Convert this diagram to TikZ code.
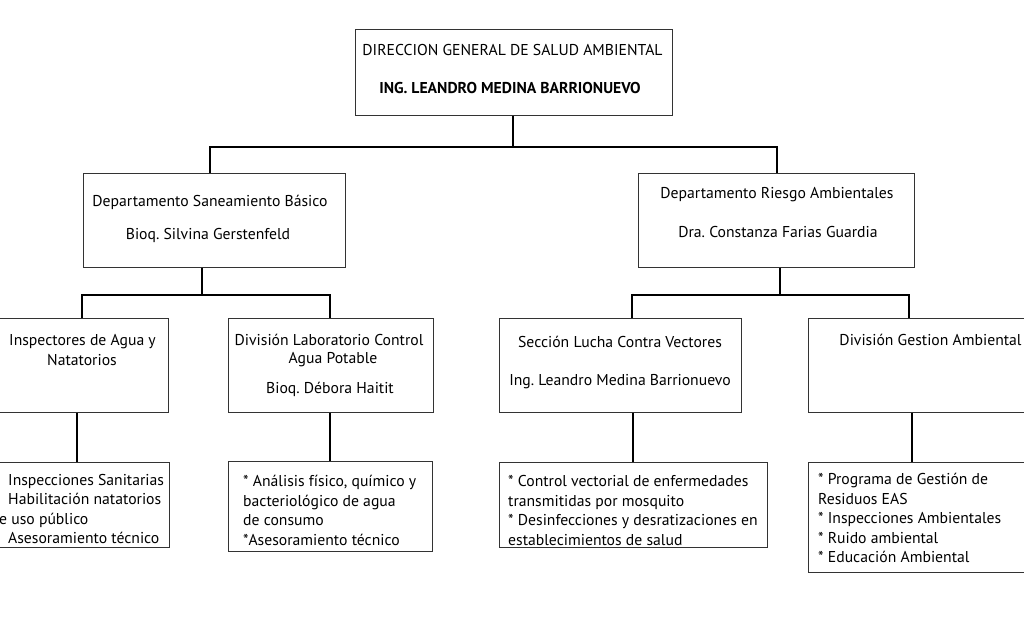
\documentclass[tikz,border=0pt]{standalone}
\usepackage{fontspec}
\setmainfont{PT Sans}
\begin{document}
\frenchspacing
\begin{tikzpicture}[x=1pt,y=-1pt,
  box/.style={draw=black!80, line width=1pt, rectangle, inner sep=0pt},
  conn/.style={line width=2.4pt, black},
  txt/.style={inner sep=0pt, font=\fontsize{15.7}{19.5}\selectfont, align=center},
  ltxt/.style={inner sep=0pt, font=\fontsize{15.7}{19.5}\selectfont, align=left, anchor=west}]
\useasboundingbox (0,0) rectangle (1024,629);
\clip (0,0) rectangle (1024,629);
\fill[white] (0,0) rectangle (1024,629);

% boxes
\node[box, minimum width=317pt, minimum height=86pt] (top) at (513.5,72) {};
\node[box, minimum width=262pt, minimum height=94pt] (dl) at (214,220) {};
\node[box, minimum width=276pt, minimum height=94pt] (dr) at (776,220) {};
\node[box, minimum width=188pt, minimum height=94pt] (a3) at (74,365) {};
\node[box, minimum width=205pt, minimum height=94pt] (b3) at (330.5,365) {};
\node[box, minimum width=242pt, minimum height=94pt] (c3) at (620,365) {};
\node[box, minimum width=232pt, minimum height=94pt] (d3) at (924,365) {};
\node[box, minimum width=189pt, minimum height=85pt] (a4) at (74.5,504.5) {};
\node[box, minimum width=204pt, minimum height=90pt] (b4) at (330,506) {};
\node[box, minimum width=268pt, minimum height=85pt] (c4) at (633,504.5) {};
\node[box, minimum width=232pt, minimum height=110pt] (d4) at (924,517) {};

% junction coordinates
\coordinate (jt) at (513,147);
\coordinate (xdl) at (210,0);
\coordinate (xdr) at (777,0);
\coordinate (jl) at (202,295);
\coordinate (jr) at (780,295);
\coordinate (xa3) at (82,0);
\coordinate (xb3) at (330,0);
\coordinate (xc3) at (632,0);
\coordinate (xd3) at (909,0);
\coordinate (xa4) at (77,0);
\coordinate (xb4) at (330,0);
\coordinate (xc4) at (633,0);
\coordinate (xd4) at (912,0);

% connectors
\draw[conn] (top.south -| jt) -- (jt);
\draw[conn] (dl.north -| xdl) |- (jt) -| (dr.north -| xdr);
\draw[conn] (dl.south -| jl) -- (jl);
\draw[conn] (a3.north -| xa3) |- (jl) -| (b3.north -| xb3);
\draw[conn] (dr.south -| jr) -- (jr);
\draw[conn] (c3.north -| xc3) |- (jr) -| (d3.north -| xd3);
\draw[conn] (a3.south -| xa4) -- (a4.north -| xa4);
\draw[conn] (b3.south -| xb4) -- (b4.north -| xb4);
\draw[conn] (c3.south -| xc4) -- (c4.north -| xc4);
\draw[conn] (d3.south -| xd4) -- (d4.north -| xd4);

% texts
\node[txt] (t1) at (512.5,50) {DIRECCION GENERAL DE SALUD AMBIENTAL};
\node[txt, font=\fontsize{15.7}{19.5}\selectfont\bfseries] (t2) at (510,88) {ING. LEANDRO MEDINA BARRIONUEVO};
\node[txt] (dl1) at (210,202) {Departamento Saneamiento Básico};
\node[txt] (dl2) at (208,235) {Bioq. Silvina Gerstenfeld};
\node[txt] (dr1) at (777,195) {Departamento Riesgo Ambientales};
\node[txt] (dr2) at (778,232) {Dra. Constanza Farias Guardia};
\node[txt] (a31) at (82.5,342) {Inspectores de Agua y};
\node[txt] (a32) at (82,360) {Natatorios};
\node[txt] (b31) at (329,340) {División Laboratorio Control};
\node[txt] (b32) at (333,360) {Agua Potable};
\node[txt] (b33) at (330,389) {Bioq. Débora Haitit};
\node[txt] (c31) at (620,342) {Sección Lucha Contra Vectores};
\node[txt] (c32) at (620,382) {Ing. Leandro Medina Barrionuevo};
\node[txt] (d31) at (930.5,340) {División Gestion Ambiental};

\node[ltxt] (a4t) at (8,509) {Inspecciones Sanitarias\\Habilitación natatorios\\\hspace*{-9pt}e uso público\\Asesoramiento técnico};
\node[ltxt] (b4t) at (243,510.5) {* Análisis físico, químico y\\bacteriológico de agua\\de consumo\\*Asesoramiento técnico};
\node[ltxt] (c4t) at (508,510.5) {* Control vectorial de enfermedades\\transmitidas por mosquito\\* Desinfecciones y desratizaciones en\\establecimientos de salud};
\node[ltxt] (d4t) at (818,518) {* Programa de Gestión de\\Residuos EAS\\* Inspecciones Ambientales\\* Ruido ambiental\\* Educación Ambiental};
\end{tikzpicture}
\end{document}
